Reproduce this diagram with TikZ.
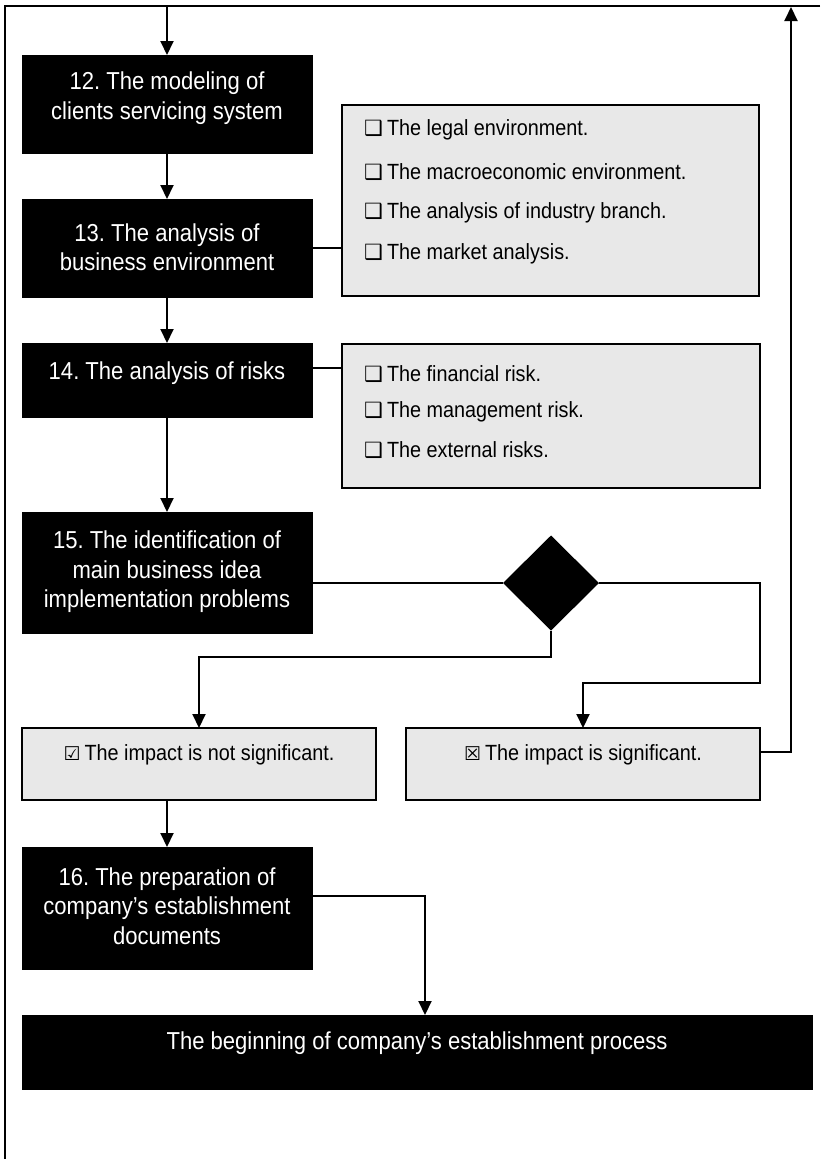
\documentclass[tikz,border=0pt]{standalone}
\usepackage{fontspec}
\setmainfont[FakeStretch=0.9]{Liberation Sans}
\newfontfamily\symfont{DejaVu Sans}
\usetikzlibrary{arrows.meta,shapes.geometric}
\definecolor{boxgray}{HTML}{E8E8E8}
% check-box glyphs used in the lists
\newcommand\optbox{{\symfont\fontsize{21}{24}\selectfont ❑}\hspace{4pt}}
\newcommand\yesbox{{\symfont\fontsize{19}{24}\selectfont ☑}\hspace{4pt}}
\newcommand\nobox{{\symfont\fontsize{19}{24}\selectfont ☒}\hspace{4pt}}
\begin{document}
\frenchspacing
\begin{tikzpicture}[x=1pt,y=-1pt,
  box/.style={anchor=north west, inner sep=0pt, outer sep=0pt},
  blackbox/.style={box, fill=black, draw=black, line width=0.8pt},
  graybox/.style={box, fill=boxgray, draw=black, line width=2pt},
  headtext/.style={text=white, align=center, inner sep=0pt, font=\fontsize{24.5}{29.5}\selectfont},
  itemtext/.style={anchor=west, inner sep=0pt, font=\fontsize{22}{24}\selectfont},
  choicetext/.style={inner sep=0pt, font=\fontsize{22}{24}\selectfont},
  flow/.style={line width=2pt, -{Triangle[width=13pt,length=14pt]}},
  link/.style={line width=2pt},
]
\useasboundingbox (0,0) rectangle (820,1159);

% outer frame (top and left edges)
\draw[line width=2.2pt] (820,6) -- (5,6) -- (5,1159);
\coordinate (entry) at (167,6);
\coordinate (back) at (791,7);

% process steps
\node[blackbox, minimum width=290pt, minimum height=98pt]  (b12) at (22,55)  {};
\node[blackbox, minimum width=290pt, minimum height=98pt]  (b13) at (22,199) {};
\node[blackbox, minimum width=290pt, minimum height=74pt]  (b14) at (22,343) {};
\node[blackbox, minimum width=290pt, minimum height=121pt] (b15) at (22,512) {};
\node[blackbox, minimum width=290pt, minimum height=122pt] (b16) at (22,847) {};
\node[blackbox, minimum width=790pt, minimum height=74pt]  (fin) at (22,1015) {};

\node[headtext] (t12) at (167,98) {12. The modeling of\\clients servicing system};
\node[headtext] (t13) at (167,247) {13. The analysis of\\business environment};
\node[headtext] (t14) at (167,373) {14. The analysis of risks};
\node[headtext] (t15) at (167,572) {15. The identification of\\main business idea\\implementation problems};
\node[headtext] (t16) at (167,906) {16. The preparation of\\company’s establishment\\documents};
\node[headtext] (tfin) at (417,1043) {The beginning of company’s establishment process};

% detail lists
\node[graybox, minimum width=417pt, minimum height=191pt] (g1) at (342,105) {};
\node[itemtext] (g1a) at (364,130) {\optbox The legal environment.};
\node[itemtext] (g1b) at (364,172) {\optbox The macroeconomic environment.};
\node[itemtext] (g1c) at (364,213) {\optbox The analysis of industry branch.};
\node[itemtext] (g1d) at (364,254) {\optbox The market analysis.};

\node[graybox, minimum width=418pt, minimum height=144pt] (g2) at (342,344) {};
\node[itemtext] (g2a) at (364,374) {\optbox The financial risk.};
\node[itemtext] (g2b) at (364,412) {\optbox The management risk.};
\node[itemtext] (g2c) at (364,450) {\optbox The external risks.};

% decision and outcomes
\node[diamond, fill=black, inner sep=0pt, outer sep=0pt, minimum width=96pt, minimum height=95pt] (dec) at (551,583) {};
\node[graybox, minimum width=354pt, minimum height=72pt] (nsig) at (22,728) {};
\node[graybox, minimum width=354pt, minimum height=72pt] (sig) at (406,728) {};
\node[choicetext] (tnsig) at (199,755) {\yesbox The impact is not significant.};
\node[choicetext] (tsig) at (583,755) {\nobox The impact is significant.};

% connection points on box sides
\coordinate (c14) at ([yshift=-25pt]b14.north east);
\coordinate (c16) at ([yshift=-49pt]b16.north east);
\coordinate (csig) at ([yshift=-24pt]sig.north east);
\coordinate (drop) at (425,0);

% main flow
\draw[flow] (entry) -- (b12.north);
\draw[flow] (b12.south) -- (b13.north);
\draw[flow] (b13.south) -- (b14.north);
\draw[flow] (b14.south) -- (b15.north);
\draw[link] (b13.east) -- (b13.east -| g1.west);
\draw[link] (c14) -- (c14 -| g2.west);
\draw[link] (dec.west -| b15.east) -- (dec.west);
\draw[flow] (dec.south) -- ++(0,26) -| (nsig.north);
\draw[flow] (dec.east) -- (dec.east -| sig.east) -- ++(0,100) -| (sig.north);
\draw[flow] (csig) -| (back);
\draw[flow] (nsig.south -| b16.north) -- (b16.north);
\draw[flow] (c16) -| (drop |- fin.north);
\end{tikzpicture}
\end{document}
